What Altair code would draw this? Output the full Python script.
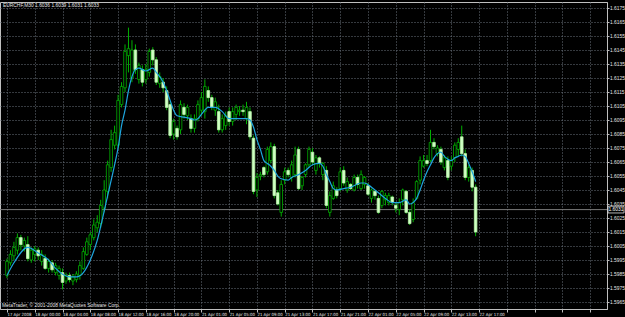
import altair as alt
import pandas as pd

# ---- data (EURCHF, M30) ----
opens = [1.5984,1.5993,1.5998,1.6002,1.6011,1.6005,1.6006,1.5995,1.5999,1.6002,
         1.5994,1.5996,1.5989,1.5993,1.5986,1.5984,1.5986,1.5980,1.5984,1.5980,
         1.5981,1.5984,1.5989,1.5999,1.6006,1.6011,1.6018,1.6021,1.6032,1.6044,
         1.6061,1.6077,1.6077,1.6106,1.6118,1.6141,1.6125,1.6145,1.6124,1.6131,
         1.6124,1.6129,1.6145,1.6138,1.6121,1.6122,1.6116,1.6106,1.6085,1.6089,
         1.6088,1.6104,1.6098,1.6096,1.6089,1.6096,1.6102,1.6101,1.6116,1.6111,
         1.6102,1.6101,1.6088,1.6091,1.6101,1.6094,1.6099,1.6101,1.6102,1.6096,
         1.6101,1.6082,1.6045,1.6055,1.6061,1.6058,1.6066,1.6076,1.6043,1.6029,
         1.6052,1.6059,1.6054,1.6056,1.6074,1.6048,1.6056,1.6063,1.6072,1.6059,
         1.6068,1.6056,1.6059,1.6029,1.6039,1.6045,1.6046,1.6059,1.6045,1.6049,
         1.6045,1.6054,1.6046,1.6049,1.6048,1.6039,1.6044,1.6039,1.6034,1.6038,
         1.6036,1.6040,1.6034,1.6031,1.6038,1.6044,1.6029,1.6024,1.6039,1.6052,
         1.6062,1.6066,1.6066,1.6079,1.6071,1.6074,1.6061,1.6066,1.6062,1.6068,
         1.6074,1.6083,1.6071,1.6054,1.6059,1.6047]
highs = [1.5996,1.6002,1.6008,1.6014,1.6013,1.6011,1.6012,1.6004,1.6005,1.6004,
         1.6002,1.5999,1.5996,1.5995,1.5993,1.5991,1.5989,1.5986,1.5986,1.5985,
         1.5987,1.5994,1.6004,1.6011,1.6015,1.6024,1.6027,1.6038,1.6052,1.6066,
         1.6088,1.6091,1.6113,1.6122,1.6149,1.6161,1.6152,1.6149,1.6136,1.6134,
         1.6135,1.6146,1.6147,1.6140,1.6129,1.6125,1.6119,1.6108,1.6096,1.6091,
         1.6109,1.6107,1.6106,1.6099,1.6099,1.6109,1.6115,1.6124,1.6119,1.6113,
         1.6111,1.6106,1.6099,1.6101,1.6104,1.6104,1.6106,1.6105,1.6106,1.6108,
         1.6104,1.6084,1.6057,1.6058,1.6062,1.6076,1.6079,1.6078,1.6045,1.6052,
         1.6061,1.6061,1.6066,1.6076,1.6076,1.6055,1.6064,1.6076,1.6075,1.6070,
         1.6069,1.6065,1.6062,1.6044,1.6051,1.6047,1.6061,1.6062,1.6054,1.6050,
         1.6056,1.6056,1.6059,1.6055,1.6050,1.6046,1.6045,1.6041,1.6045,1.6043,
         1.6043,1.6041,1.6036,1.6039,1.6046,1.6045,1.6031,1.6039,1.6052,1.6069,
         1.6070,1.6070,1.6088,1.6082,1.6077,1.6076,1.6070,1.6069,1.6069,1.6079,
         1.6082,1.6091,1.6074,1.6063,1.6061,1.6049]
lows = [1.5982,1.5991,1.5995,1.5999,1.6002,1.6001,1.5994,1.5993,1.5994,1.5995,
        1.5991,1.5988,1.5986,1.5986,1.5984,1.5981,1.5974,1.5978,1.5979,1.5977,
        1.5979,1.5981,1.5988,1.5998,1.6002,1.6009,1.6015,1.6018,1.6029,1.6039,
        1.6058,1.6074,1.6075,1.6104,1.6115,1.6129,1.6122,1.6128,1.6121,1.6119,
        1.6121,1.6126,1.6134,1.6120,1.6118,1.6115,1.6102,1.6082,1.6081,1.6081,
        1.6085,1.6096,1.6095,1.6086,1.6086,1.6094,1.6098,1.6096,1.6108,1.6102,
        1.6098,1.6086,1.6086,1.6088,1.6091,1.6091,1.6095,1.6098,1.6098,1.6092,
        1.6081,1.6042,1.6040,1.6052,1.6054,1.6056,1.6064,1.6039,1.6034,1.6026,
        1.6049,1.6054,1.6051,1.6054,1.6045,1.6045,1.6054,1.6061,1.6063,1.6056,
        1.6061,1.6052,1.6032,1.6026,1.6038,1.6039,1.6044,1.6048,1.6043,1.6045,
        1.6044,1.6046,1.6045,1.6046,1.6041,1.6036,1.6038,1.6028,1.6032,1.6034,
        1.6034,1.6034,1.6029,1.6027,1.6034,1.6028,1.6020,1.6022,1.6038,1.6049,
        1.6061,1.6062,1.6065,1.6074,1.6069,1.6063,1.6059,1.6052,1.6059,1.6065,
        1.6069,1.6069,1.6052,1.6051,1.6044,1.6012]
closes = [1.5994,1.5999,1.6004,1.6011,1.6006,1.6009,1.5996,1.6002,1.6003,1.5998,
          1.5999,1.5989,1.5994,1.5988,1.5991,1.5989,1.5979,1.5984,1.5981,1.5983,
          1.5985,1.5991,1.6001,1.6008,1.6013,1.6020,1.6022,1.6034,1.6045,1.6063,
          1.6081,1.6086,1.6109,1.6119,1.6144,1.6146,1.6145,1.6131,1.6134,1.6122,
          1.6131,1.6144,1.6138,1.6122,1.6126,1.6118,1.6104,1.6084,1.6094,1.6083,
          1.6106,1.6099,1.6104,1.6089,1.6096,1.6106,1.6111,1.6119,1.6111,1.6104,
          1.6108,1.6088,1.6096,1.6098,1.6094,1.6101,1.6104,1.6102,1.6101,1.6104,
          1.6083,1.6044,1.6054,1.6056,1.6056,1.6074,1.6076,1.6041,1.6035,1.6049,
          1.6058,1.6056,1.6063,1.6070,1.6046,1.6054,1.6063,1.6074,1.6065,1.6068,
          1.6064,1.6064,1.6034,1.6041,1.6048,1.6041,1.6058,1.6050,1.6051,1.6046,
          1.6054,1.6049,1.6056,1.6054,1.6042,1.6045,1.6041,1.6029,1.6044,1.6041,
          1.6041,1.6036,1.6032,1.6036,1.6045,1.6029,1.6021,1.6036,1.6051,1.6066,
          1.6066,1.6064,1.6079,1.6076,1.6075,1.6065,1.6068,1.6054,1.6066,1.6077,
          1.6079,1.6071,1.6054,1.6061,1.6047,1.6015]

ma_bar = [0,2,6,9,12,14,18,20,22,24,26,27,29,31,32,33,34,35,36,37,38,40,42,43,45,47,48,49,
          51,53,54,55,56,58,60,62,64,67,69,70,71,72,73,74,75,76,77,78,79,81,82,84,86,88,
          90,91,92,93,94,95,97,99,102,103,105,107,109,111,113,115,116,117,118,119,120,121,
          122,123,124,125,126,127,128,129,130,131,132,133,134,135]
ma_val = [1.5984,1.5993,1.6004,1.6000,1.5995,1.5989,1.5983,1.5983,1.5986,1.5995,1.6009,1.6019,
          1.6041,1.6063,1.6075,1.6091,1.6102,1.6116,1.6126,1.6131,1.6132,1.6130,1.6132,1.6129,
          1.6122,1.6109,1.6102,1.6098,1.6097,1.6096,1.6095,1.6096,1.6099,1.6104,1.6104,1.6101,
          1.6096,1.6096,1.6096,1.6095,1.6090,1.6081,1.6074,1.6066,1.6064,1.6062,1.6059,1.6055,
          1.6053,1.6052,1.6054,1.6056,1.6059,1.6063,1.6064,1.6062,1.6056,1.6051,1.6046,1.6045,
          1.6046,1.6047,1.6050,1.6050,1.6047,1.6043,1.6039,1.6036,1.6036,1.6038,1.6035,1.6036,
          1.6039,1.6045,1.6052,1.6058,1.6063,1.6068,1.6071,1.6072,1.6069,1.6067,1.6066,1.6068,
          1.6069,1.6070,1.6069,1.6064,1.6058,1.6051]

x_labels = ["17 Apr 2008", "18 Apr 00:00", "18 Apr 04:00", "18 Apr 08:00", "18 Apr 12:00",
            "18 Apr 16:00", "18 Apr 20:00", "21 Apr 01:00", "21 Apr 05:00", "21 Apr 09:00",
            "21 Apr 13:00", "21 Apr 17:00", "21 Apr 21:00", "22 Apr 01:00", "22 Apr 05:00",
            "22 Apr 09:00", "22 Apr 13:00", "22 Apr 17:00"]
bars_per_label = 8
y_ticks = [1.5965, 1.5975, 1.5985, 1.5995, 1.6005, 1.6015, 1.6025, 1.6035, 1.6045, 1.6055,
           1.6065, 1.6075, 1.6085, 1.6095, 1.6105, 1.6115, 1.6125, 1.6135, 1.6145, 1.6155,
           1.6165, 1.6175]
bid_price = 1.6031
title_text = "EURCHF,M30  1.6036 1.6039 1.6031 1.6033"
copyright_text = "MetaTrader, \u00a9 2001-2008 MetaQuotes Software Corp."

# ---- build tables ----
df = pd.DataFrame({"bar": list(range(len(opens))), "open": opens, "high": highs,
                   "low": lows, "close": closes})
df["dir"] = ["bull" if c >= o else "bear" for o, c in zip(opens, closes)]
ma_df = pd.DataFrame({"bar": ma_bar, "ma": ma_val})
bid_df = pd.DataFrame({"price": [bid_price], "label": [f"{bid_price:.4f}"]})

FONT = "Liberation Sans"
NARROW = "Liberation Sans Narrow, DejaVu Sans Condensed, Liberation Sans"
GRID = "#6a737d"
AXIS = "#bfbfbf"
TXT = "#e6e6e6"
FS = 4.9

label_expr = ("[" + ",".join(f"'{s}'" for s in x_labels) +
              f"][round(datum.value/{bars_per_label})] || ''")
x_tick_vals = [k * bars_per_label for k in range(len(x_labels))] + [144, 152, 160, 168]

xscale = alt.Scale(domain=[-0.57, 171.4], nice=False, zero=False)
yscale = alt.Scale(domain=[1.5960, 1.61793], nice=False, zero=False)

x_axis = alt.Axis(values=x_tick_vals, labelExpr=label_expr, labelAlign="left",
                  labelFont=NARROW, labelFontSize=4.3, labelColor=TXT, labelPadding=0,
                  tickColor=AXIS, tickSize=3, domainColor=AXIS, grid=True,
                  gridColor=GRID, gridDash=[1, 2], title=None, labelFlush=False,
                  labelOverlap=False, labelBound=False)
y_axis = alt.Axis(orient="right", values=y_ticks, format=".4f", labelFont=FONT,
                  labelFontSize=FS, labelColor=TXT, labelPadding=0.5, tickColor=AXIS,
                  tickSize=2, domainColor=AXIS, grid=True, gridColor=GRID,
                  gridDash=[1, 2], title=None, labelFlush=False, labelOverlap=False,
                  labelBound=False)


def X(field):
    return alt.X(field, scale=xscale, axis=x_axis)


def Y(field):
    return alt.Y(field, scale=yscale, axis=y_axis)


base = alt.Chart(df)

bid_line = alt.Chart(bid_df).mark_rule(color="#7a7a7a", strokeWidth=1).encode(
    y=Y("price:Q")
)

wicks = base.mark_rule(color="#00b000", strokeWidth=1).encode(
    x=X("bar:Q"), y=Y("low:Q"), y2="high:Q",
)

bodies = base.mark_bar(width=2.6, strokeWidth=0.8).encode(
    x=X("bar:Q"), y=Y("open:Q"), y2="close:Q",
    fill=alt.Fill("dir:N", scale=alt.Scale(domain=["bull", "bear"],
                                           range=["#000000", "#cfffc4"]), legend=None),
    stroke=alt.Stroke("dir:N", scale=alt.Scale(domain=["bull", "bear"],
                                               range=["#00b000", "#b8f5a8"]), legend=None),
)

ma_line = alt.Chart(ma_df).mark_line(color="#1ea6df", strokeWidth=1.2,
                                     interpolate="monotone").encode(
    x=X("bar:Q"), y=Y("ma:Q"),
)

bid_box = alt.Chart(bid_df).mark_point(
    shape="M-1,-0.42L1,-0.42L1,0.42L-1,0.42Z", size=256, filled=True,
    fill="#000000", stroke="#e0e0e0", strokeWidth=0.8, opacity=1
).encode(x=alt.value(616), y=Y("price:Q"))

bid_text = alt.Chart(bid_df).mark_text(font=FONT, fontSize=FS, color="#ffffff",
                                       align="center", baseline="middle").encode(
    x=alt.value(616), y=Y("price:Q"), text="label:N")

title_mark = alt.Chart(bid_df).mark_text(font=FONT, fontSize=FS, color=TXT,
                                         align="left", baseline="top",
                                         text=title_text).encode(
    x=alt.value(3), y=alt.value(1))

copy_mark = alt.Chart(bid_df).mark_text(font=FONT, fontSize=FS, color=TXT,
                                        align="left", baseline="bottom",
                                        text=copyright_text).encode(
    x=alt.value(2), y=alt.value(306))

chart = alt.layer(bid_line, wicks, bodies, ma_line, bid_box, bid_text,
                  title_mark, copy_mark).properties(
    width=607, height=307,
    background="#000000",
    padding={"top": 2, "left": 0, "right": 18, "bottom": 8},
    autosize=alt.AutoSizeParams(type="none"),
).configure_view(stroke=AXIS, strokeWidth=1, fill="#000000"
).configure_axis(labelOverlap=False, labelBound=False, labelFlush=False)

chart.save("out.html", embed_options={"renderer": "svg", "actions": False})
